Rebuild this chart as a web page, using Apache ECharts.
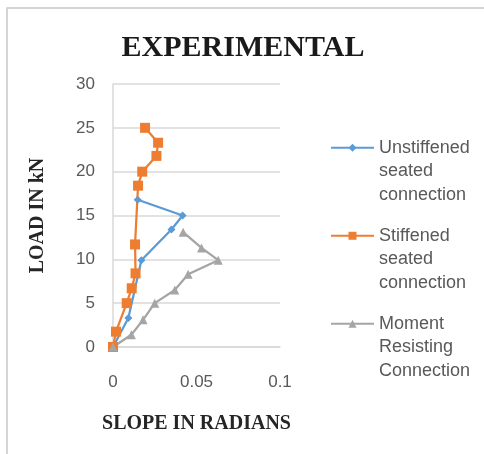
<!DOCTYPE html>
<html>
<head>
<meta charset="utf-8">
<script src="https://cdn.jsdelivr.net/npm/echarts@6/dist/echarts.min.js"></script>
<style>html,body{margin:0;padding:0;background:#fff;}#c{width:484px;height:454px;}</style>
</head>
<body>
<div id="c"></div>
<script>
// ---- data ----
var seriesNames = ['Unstiffened\nseated\nconnection', 'Stiffened\nseated\nconnection', 'Moment\nResisting\nConnection'];
var unstiffSlope = [0, 0.0092, 0.017, 0.035, 0.0417, 0.0148];
var unstiffLoad  = [0, 3.3, 9.9, 13.4, 15.0, 16.8];
var stiffSlope = [0, 0.0018, 0.0082, 0.0112, 0.0135, 0.0132, 0.015, 0.0175, 0.026, 0.027, 0.0192];
var stiffLoad  = [0, 1.75, 5.0, 6.7, 8.4, 11.7, 18.4, 20.0, 21.8, 23.3, 25.0];
var momentSlope = [0, 0.011, 0.018, 0.025, 0.037, 0.045, 0.063, 0.053, 0.042];
var momentLoad  = [0, 1.4, 3.1, 5.0, 6.5, 8.3, 9.9, 11.3, 13.1];
var xTicks = [0, 0.05, 0.1];
var yTicks = [0, 5, 10, 15, 20, 25, 30];

function pairs(xs, ys) { return xs.map(function (x, i) { return [x, ys[i]]; }); }

var chart = echarts.init(document.getElementById('c'), null, { renderer: 'canvas' });
var labelFont = { color: '#595959', fontSize: 17, fontFamily: 'Liberation Sans' };
var option = {
  animation: false,
  backgroundColor: '#fff',
  graphic: [{
    type: 'rect', shape: { x: 7, y: 8, width: 500, height: 470 },
    style: { fill: 'none', stroke: '#c8c8c8', lineWidth: 1.5 }, silent: true, z: -1
  }],
  title: {
    text: 'EXPERIMENTAL', left: 238, top: 28, textAlign: 'center',
    textStyle: { fontFamily: 'Liberation Serif', fontWeight: 'bold', fontSize: 30, color: '#1a1a1a' }
  },
  grid: { left: 113, right: 204, top: 84, bottom: 107 },
  xAxis: {
    type: 'value', min: xTicks[0], max: xTicks[xTicks.length - 1], interval: xTicks[1] - xTicks[0],
    name: 'SLOPE IN RADIANS', nameLocation: 'middle', nameGap: 67,
    nameTextStyle: { fontFamily: 'Liberation Serif', fontWeight: 'bold', fontSize: 20, color: '#262626' },
    axisLine: { show: true, lineStyle: { color: '#d9d9d9', width: 1.5 } },
    axisTick: { show: false },
    splitLine: { show: false },
    axisLabel: Object.assign({ margin: 27, formatter: function (v) { return String(+v.toFixed(2)); } }, labelFont)
  },
  yAxis: {
    type: 'value', min: yTicks[0], max: yTicks[yTicks.length - 1], interval: yTicks[1] - yTicks[0],
    name: 'LOAD IN kN', nameLocation: 'middle', nameGap: 65, nameRotate: 90,
    nameTextStyle: { fontFamily: 'Liberation Serif', fontWeight: 'bold', fontSize: 20, color: '#262626' },
    axisLine: { show: true, lineStyle: { color: '#d9d9d9', width: 1.5 } },
    axisTick: { show: false },
    splitLine: { show: true, lineStyle: { color: '#d9d9d9', width: 1.5 } },
    axisLabel: Object.assign({ margin: 18 }, labelFont)
  },
  legend: {
    orient: 'vertical', left: 325, top: 84, itemGap: -29.5, itemWidth: 43, itemHeight: 10,
    formatter: function (n) { return '\n\n' + n; },
    textStyle: { color: '#595959', fontSize: 18, lineHeight: 23.5, fontFamily: 'Liberation Sans' },
    data: seriesNames
  },
  series: [
    {
      name: seriesNames[0], type: 'line', data: pairs(unstiffSlope, unstiffLoad),
      symbol: 'diamond', symbolSize: 8,
      lineStyle: { color: '#5B9BD5', width: 2.25 }, itemStyle: { color: '#5B9BD5' }
    },
    {
      name: seriesNames[1], type: 'line', data: pairs(stiffSlope, stiffLoad),
      symbol: 'rect', symbolSize: 10,
      lineStyle: { color: '#ED7D31', width: 2.25 }, itemStyle: { color: '#ED7D31' }
    },
    {
      name: seriesNames[2], type: 'line', data: pairs(momentSlope, momentLoad),
      symbol: 'triangle', symbolSize: 9,
      lineStyle: { color: '#A5A5A5', width: 2.25 }, itemStyle: { color: '#A5A5A5' }
    }
  ]
};
chart.setOption(option);
</script>
</body>
</html>
